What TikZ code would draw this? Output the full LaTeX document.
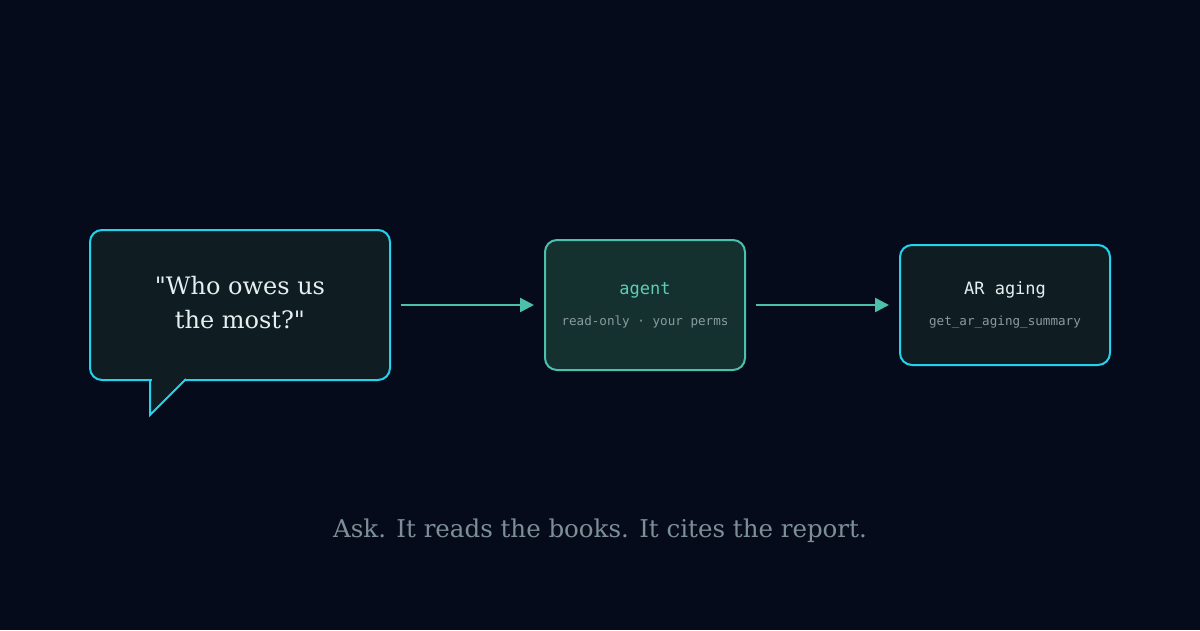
\documentclass[tikz,border=0pt]{standalone}
\usepackage{fontspec}
\setmainfont{DejaVu Serif}
\setmonofont{DejaVu Sans Mono}
\usetikzlibrary{arrows.meta}
\definecolor{bg}{HTML}{060B1C}
\definecolor{cyanS}{HTML}{22D3EE}
\definecolor{tealS}{HTML}{4CC0AA}
\definecolor{boxA}{HTML}{0F1D22}
\definecolor{boxB}{HTML}{14312F}
\definecolor{txtW}{HTML}{E6EEF0}
\definecolor{txtT}{HTML}{5FCDB4}
\definecolor{txtG}{HTML}{8A9AA0}
\definecolor{capC}{HTML}{7D8F96}
\tikzset{
  box/.style={rounded corners=12pt, line width=2pt},
  conn/.style={draw=tealS, line width=2.5pt, -{Triangle[length=14pt,width=14pt]}},
}
\begin{document}
\begin{tikzpicture}[x=1pt,y=-1pt]
\fill[bg] (0,0) rectangle (1200,630);
\useasboundingbox (0,0) rectangle (1200,630);
% speech bubble
\fill[boxA] (150,375) -- (150,415) -- (187,378) -- cycle;
\node[box, draw=cyanS, fill=boxA, minimum width=300pt, minimum height=150pt, inner sep=0] (q) at (240,305) {};
\fill[boxA] (151.5,377) rectangle (184,382);
\draw[cyanS, line width=2pt, line join=miter] (150,379) -- (150,415) -- (186,379);
\node[text=txtW, font=\fontsize{24}{34}\selectfont, align=center] (qt) at (240,303) {\textquotedbl Who owes us\\the most?\textquotedbl};
% agent
\node[box, draw=tealS, fill=boxB, minimum width=200pt, minimum height=130pt, inner sep=0] (a) at (645,305) {};
\node[text=txtT, font=\ttfamily\fontsize{17}{20}\selectfont] (at) at (645,290) {agent};
\node[text=txtG, font=\ttfamily\fontsize{12.6}{14}\selectfont] (as) at (645,322) {read-only · your perms};
% AR
\node[box, draw=cyanS, fill=boxA, minimum width=210pt, minimum height=120pt, inner sep=0] (r) at (1005,305) {};
\node[text=txtW, font=\ttfamily\fontsize{17}{20}\selectfont] (rt) at (1005,290) {AR aging};
\node[text=txtG, font=\ttfamily\fontsize{12.6}{14}\selectfont] (rs) at (1005,322) {get\_ar\_aging\_summary};
% connectors
\draw[conn] ([xshift=10pt]q.east) -- ([xshift=-10pt]a.west);
\draw[conn] ([xshift=10pt]a.east) -- ([xshift=-10pt]r.west);
% caption
\node[text=capC, font=\fontsize{24.5}{30}\selectfont] (cap) at (600,531) {Ask. It reads the books. It cites the report.};
\end{tikzpicture}
\end{document}
